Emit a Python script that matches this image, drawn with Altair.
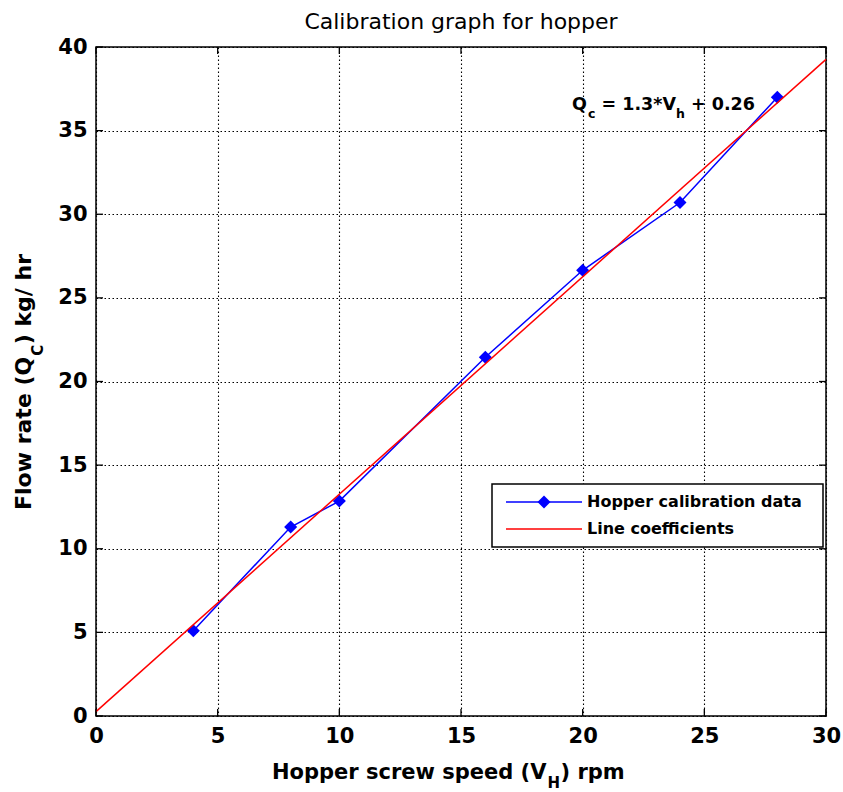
import altair as alt
import pandas as pd

# ---- data ----
speed_rpm = [4, 8, 10, 16, 20, 24, 28]
flow_kg_hr = [5.1, 11.3, 12.85, 21.45, 26.65, 30.7, 37.0]
fit_x = [0, 30]
fit_y = [0.26, 39.26]
x_ticks = [0, 5, 10, 15, 20, 25, 30]
y_ticks = [0, 5, 10, 15, 20, 25, 30, 35, 40]

W, H = 730, 669
FONT = "DejaVu Sans"
TL = 7  # inward tick length

data_df = pd.DataFrame({"speed": speed_rpm, "flow": flow_kg_hr})
fit_df = pd.DataFrame({"speed": fit_x, "flow": fit_y})
xt_df = pd.DataFrame({"speed": x_ticks})
yt_df = pd.DataFrame({"flow": y_ticks})
one = pd.DataFrame({"a": [0]})

xs = alt.Scale(domain=[0, 30], nice=False)
ys = alt.Scale(domain=[0, 40], nice=False)
xax = alt.Axis(values=x_ticks, title=None, labelPadding=9, format="d", labelFlush=False)
yax = alt.Axis(values=y_ticks, title=None, labelPadding=9, format="d", labelFlush=False)

blue = alt.Chart(data_df).mark_line(
    color="#0000ff", strokeWidth=1.5,
    point=alt.OverlayMarkDef(shape="diamond", filled=True, size=170, color="#0000ff", opacity=1),
).encode(
    x=alt.X("speed:Q", scale=xs, axis=xax),
    y=alt.Y("flow:Q", scale=ys, axis=yax),
)

red = alt.Chart(fit_df).mark_line(color="#ff0000", strokeWidth=1.5).encode(
    x=alt.X("speed:Q", scale=xs),
    y=alt.Y("flow:Q", scale=ys),
)

# inward ticks on all four sides of the box
tick_kw = dict(color="black", size=TL, thickness=1.3, opacity=1)
tb = alt.Chart(xt_df).mark_tick(orient="vertical", **tick_kw).encode(
    x=alt.X("speed:Q", scale=xs), y=alt.value(H - TL / 2))
tt = alt.Chart(xt_df).mark_tick(orient="vertical", **tick_kw).encode(
    x=alt.X("speed:Q", scale=xs), y=alt.value(TL / 2))
tl = alt.Chart(yt_df).mark_tick(orient="horizontal", **tick_kw).encode(
    y=alt.Y("flow:Q", scale=ys), x=alt.value(TL / 2))
tr = alt.Chart(yt_df).mark_tick(orient="horizontal", **tick_kw).encode(
    y=alt.Y("flow:Q", scale=ys), x=alt.value(W - TL / 2))


def txt(s, x, y, size, angle=0, weight="bold", align="left", baseline="alphabetic"):
    kw = dict(text=s, font=FONT, fontSize=size, fontWeight=weight, align=align,
              baseline=baseline, color="black")
    if angle:
        kw["angle"] = angle
    return alt.Chart(one).mark_text(**kw).encode(x=alt.value(x), y=alt.value(y))


# annotation  Q_c = 1.3*V_h + 0.26
ann = [
    txt("Q", 476, 63, 17.5),
    txt("c", 492, 71, 12.5),
    txt("= 1.3*V", 505.5, 63, 17.5),
    txt("h", 580, 71, 12.5),
    txt("+ 0.26", 595, 63, 17.5),
]

# x axis title  Hopper screw speed (V_H) rpm
xt = [
    txt("Hopper screw speed (V", 176, 732, 21),
    txt("H", 451.4, 741, 15),
    txt(") rpm", 464.5, 732, 21),
]

# y axis title  Flow rate (Q_C) kg/ hr
yt = [
    txt("Flow rate (Q", -65, 463, 22, angle=270),
    txt("C", -53, 308.8, 15, angle=270),
    txt(") kg/ hr", -65, 297.3, 22, angle=270),
]

# legend
leg_box = alt.Chart(one).mark_rect(fill="white", stroke="black", strokeWidth=1.5).encode(
    x=alt.value(396), x2=alt.value(727), y=alt.value(437), y2=alt.value(500))
leg_blue = alt.Chart(one).mark_rule(color="#0000ff", strokeWidth=1.5).encode(
    x=alt.value(410), x2=alt.value(486), y=alt.value(455))
leg_dia = alt.Chart(one).mark_point(shape="diamond", filled=True, size=170, color="#0000ff", opacity=1).encode(
    x=alt.value(448), y=alt.value(455))
leg_red = alt.Chart(one).mark_rule(color="#ff0000", strokeWidth=1.5).encode(
    x=alt.value(410), x2=alt.value(486), y=alt.value(482))
leg_t1 = txt("Hopper calibration data", 491, 455, 16, baseline="middle")
leg_t2 = txt("Line coefficients", 491, 482, 16, baseline="middle")

chart = alt.layer(
    blue, red, tb, tt, tl, tr, *ann, *xt, *yt,
    leg_box, leg_blue, leg_dia, leg_red, leg_t1, leg_t2
).properties(
    width=W, height=H,
    background="white",
    title=alt.TitleParams("Calibration graph for hopper", font=FONT, fontSize=22,
                          fontWeight="normal", anchor="middle", offset=2, color="black"),
    autosize=alt.AutoSizeParams(type="none"),
    padding={"left": 96, "top": 47, "right": 17, "bottom": 76},
).configure_view(
    stroke="black", strokeWidth=1.5
).configure_axis(
    labelFont=FONT, labelFontSize=21, labelFontWeight="bold", labelColor="black",
    tickSize=0, domain=False, grid=True, gridColor="black", gridDash=[1.5, 2.5],
    gridOpacity=1, gridWidth=1.1,
)

chart.save("out.html", embed_options={"renderer": "svg", "actions": False})
